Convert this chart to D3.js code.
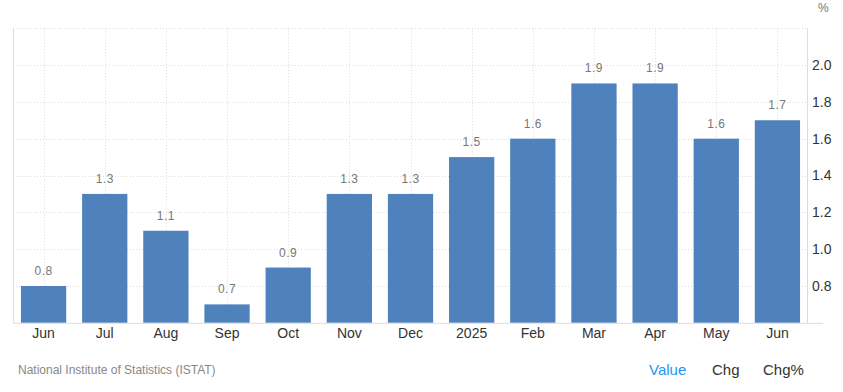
<!DOCTYPE html>
<html><head><meta charset="utf-8">
<script src="https://cdn.jsdelivr.net/npm/d3@7"></script>
<style>body{margin:0;background:#fff;font-family:Arial,"Liberation Sans",sans-serif}</style>
</head><body><svg id="c" width="843" height="392"></svg>
<script>
const categories = ["Jun","Jul","Aug","Sep","Oct","Nov","Dec","2025","Feb","Mar","Apr","May","Jun"];
const values = [0.8,1.3,1.1,0.7,0.9,1.3,1.3,1.5,1.6,1.9,1.9,1.6,1.7];
const yTicks = [0.8,1.0,1.2,1.4,1.6,1.8,2.0];
const unit = "%";
const source = "National Institute of Statistics (ISTAT)";
const tabs = ["Value","Chg","Chg%"];

const svg = d3.select("#c");
const L = 13, R = 808, T = 28.2, B = 322.8;
const x = d3.scaleBand().domain(d3.range(categories.length)).range([L, R]).paddingInner(0.26).paddingOuter(0.13);
const y = d3.scaleLinear().domain([0.6, 2.2]).range([B, T]);

// horizontal grid
const gridY = yTicks.concat([2.2]);
svg.append("g").selectAll("line").data(gridY).join("line")
  .attr("x1", L).attr("x2", R).attr("y1", d => Math.round(y(d)) + 0.5).attr("y2", d => Math.round(y(d)) + 0.5)
  .attr("stroke", "#ddd").attr("stroke-dasharray", "1,2");
// vertical grid
svg.append("g").selectAll("line").data(d3.range(categories.length)).join("line")
  .attr("x1", i => Math.round(x(i) + x.bandwidth() / 2) + 0.5).attr("x2", i => Math.round(x(i) + x.bandwidth() / 2) + 0.5)
  .attr("y1", T).attr("y2", B).attr("stroke", "#ddd").attr("stroke-dasharray", "1,2");

// bars
svg.append("g").selectAll("rect").data(values).join("rect")
  .attr("x", (d, i) => x(i)).attr("width", x.bandwidth())
  .attr("y", d => y(d)).attr("height", d => B - y(d))
  .attr("fill", "#4f81bd");

// value labels
svg.append("g").selectAll("text").data(values).join("text")
  .attr("x", (d, i) => x(i) + x.bandwidth() / 2).attr("y", d => y(d) - 11)
  .attr("text-anchor", "middle").attr("font-size", 12).attr("fill", "#777")
  .attr("letter-spacing", "0.5px")
  .text(d => d.toFixed(1));

// axes lines
svg.append("line").attr("x1", L + 0.5).attr("x2", L + 0.5).attr("y1", T).attr("y2", B).attr("stroke", "#ddd");
svg.append("line").attr("x1", R - 0.5).attr("x2", R - 0.5).attr("y1", T).attr("y2", B + 1).attr("stroke", "#ddd");
svg.append("line").attr("x1", L).attr("x2", R + 15).attr("y1", B + 0.5).attr("y2", B + 0.5).attr("stroke", "#ddd");

// right y axis
const yAxis = d3.axisRight(y).tickValues(yTicks).tickSize(0).tickPadding(4).tickFormat(d3.format(".1f"));
const ga = svg.append("g").attr("transform", `translate(${R},0)`).call(yAxis);
ga.select(".domain").remove();
ga.selectAll("text").attr("font-size", 14).attr("fill", "#333").attr("font-family", "Arial, 'Liberation Sans', sans-serif");

// x axis
const xAxis = d3.axisBottom(x).tickFormat(i => categories[i]).tickSize(0).tickPadding(5);
const gx = svg.append("g").attr("transform", `translate(0,${B})`).call(xAxis);
gx.select(".domain").remove();
gx.selectAll("text").attr("font-size", 14).attr("fill", "#333").attr("font-family", "Arial, 'Liberation Sans', sans-serif");

// unit
svg.append("text").attr("x", 818).attr("y", 12).attr("font-size", 12).attr("fill", "#777").text(unit);

// footer
svg.append("text").attr("x", 18).attr("y", 374).attr("font-size", 12).attr("fill", "#888").text(source);
const tabX = [649, 712, 763];
const tabC = ["#2196f3", "#333", "#333"];
svg.append("g").selectAll("text").data(tabs).join("text")
  .attr("x", (d, i) => tabX[i]).attr("y", 375).attr("font-size", 15).attr("fill", (d, i) => tabC[i]).text(d => d);
</script></body></html>
